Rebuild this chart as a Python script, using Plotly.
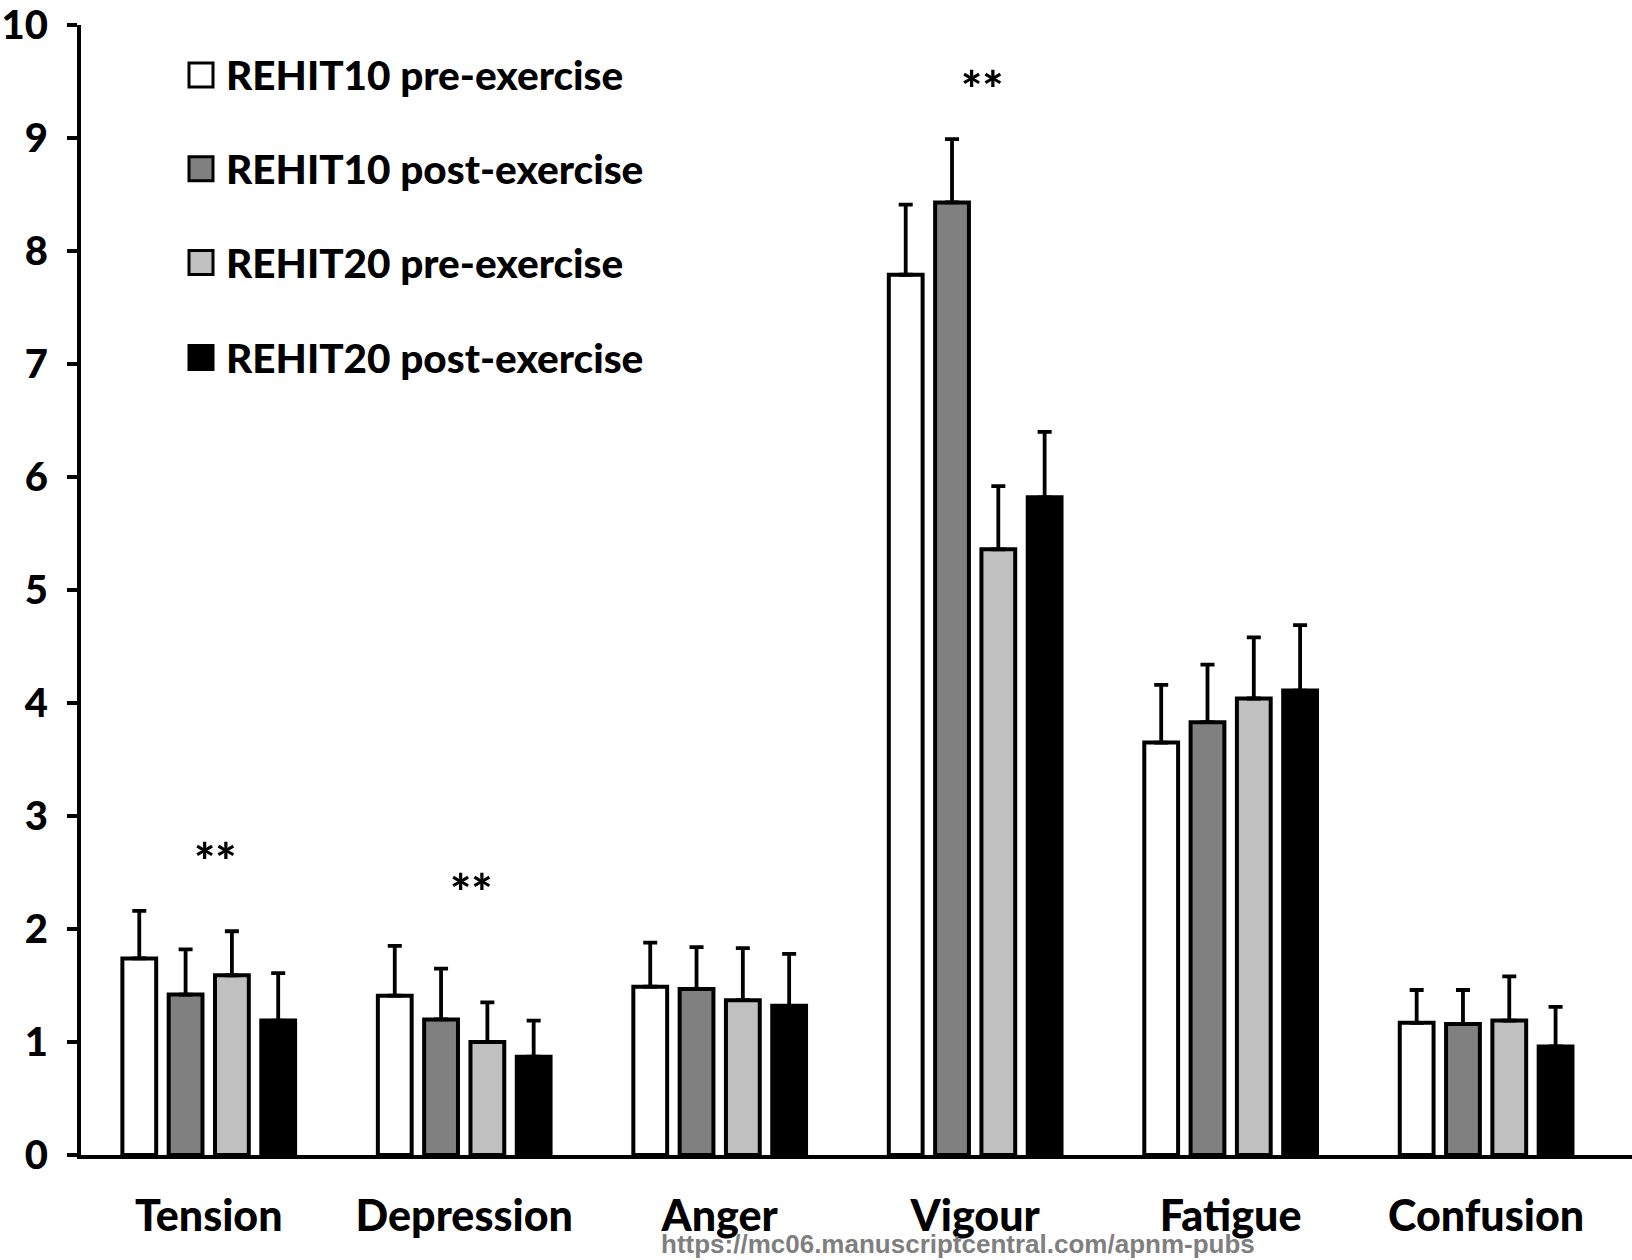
import plotly.graph_objects as go

# POMS subscale scores, mean with upward SD whisker
categories = ["Tension", "Depression", "Anger", "Vigour", "Fatigue", "Confusion"]

series_names = [
    "REHIT10 pre-exercise",
    "REHIT10 post-exercise",
    "REHIT20 pre-exercise",
    "REHIT20 post-exercise",
]
series_colors = ["#ffffff", "#808080", "#c0c0c0", "#000000"]

rehit10_pre = [1.74, 1.41, 1.49, 7.79, 3.65, 1.17]
rehit10_pre_sd = [0.42, 0.44, 0.39, 0.62, 0.51, 0.29]
rehit10_post = [1.42, 1.20, 1.47, 8.43, 3.83, 1.16]
rehit10_post_sd = [0.40, 0.45, 0.37, 0.56, 0.51, 0.30]
rehit20_pre = [1.59, 1.00, 1.37, 5.36, 4.04, 1.19]
rehit20_pre_sd = [0.39, 0.35, 0.46, 0.56, 0.54, 0.39]
rehit20_post = [1.19, 0.87, 1.32, 5.82, 4.11, 0.96]
rehit20_post_sd = [0.42, 0.32, 0.46, 0.58, 0.58, 0.35]

series_values = [rehit10_pre, rehit10_post, rehit20_pre, rehit20_post]
series_sd = [rehit10_pre_sd, rehit10_post_sd, rehit20_pre_sd, rehit20_post_sd]

# significance markers: (category, height of the asterisks)
sig_categories = ["Tension", "Depression", "Vigour"]
sig_heights = [2.68, 2.41, 9.51]

FONT = "Lato"
HEAVY = 900
W, H = 1632, 1260
L, R, T, B = 81, 0, 23, 105

fig = go.Figure()
for name, color, vals, sd in zip(series_names, series_colors, series_values, series_sd):
    fig.add_trace(go.Bar(
        name=name,
        x=categories,
        y=vals,
        marker=dict(color=color, line=dict(color="black", width=4)),
        error_y=dict(type="data", array=sd, arrayminus=[0] * len(sd),
                     symmetric=False, color="black", thickness=3.8, width=7),
        showlegend=False,
    ))

for cat, h in zip(sig_categories, sig_heights):
    fig.add_annotation(x=cat, y=h - 0.08, xref="x", yref="y", text="**",
                       showarrow=False, yanchor="middle", xshift=7,
                       font=dict(family=FONT, size=50, color="black", weight=HEAVY))


def px_x(px):
    return (px - L) / (W - L - R)


def px_y(py):
    return (H - B - py) / (H - T - B)


# legend drawn as swatches plus labels
row_centers = [73, 167, 261, 356]
for name, color, cy in zip(series_names, series_colors, row_centers):
    fig.add_shape(type="rect", xref="paper", yref="paper",
                  x0=px_x(189), x1=px_x(213), y0=px_y(cy + 12), y1=px_y(cy - 12),
                  fillcolor=color, line=dict(color="black", width=3))
    fig.add_annotation(x=px_x(224), y=px_y(cy), xref="paper", yref="paper",
                       text=name, showarrow=False,
                       xanchor="left", yanchor="middle",
                       font=dict(family=FONT, size=40.5, color="black", weight=HEAVY))

fig.add_annotation(x=px_x(958), y=px_y(1244), xref="paper", yref="paper",
                   text="<b>https://mc06.manuscriptcentral.com/apnm-pubs</b>",
                   showarrow=False, xanchor="center", yanchor="middle",
                   font=dict(family="Liberation Sans Narrow, Liberation Sans", size=26,
                             color="#7f7f7f"))

fig.update_layout(
    width=W, height=H,
    margin=dict(l=L, r=R, t=T, b=B, pad=0),
    paper_bgcolor="white", plot_bgcolor="white",
    barmode="group", bargap=0.275, bargroupgap=0.27,
    font=dict(family=FONT, color="black"),
    xaxis=dict(
        range=[-0.5, 5.571],
        showline=True, linecolor="black", linewidth=4,
        ticks="", showgrid=False, zeroline=False,
        tickfont=dict(family=FONT, size=43, color="black", weight=HEAVY),
        ticklabelstandoff=20,
    ),
    yaxis=dict(
        range=[0, 10], dtick=1, tick0=0,
        showline=True, linecolor="black", linewidth=4,
        ticks="outside", ticklen=10, tickwidth=3.5, tickcolor="black",
        showgrid=False, zeroline=False,
        tickfont=dict(family=FONT, size=40, color="black", weight=HEAVY),
        ticklabelstandoff=11,
        ticklabeloverflow="allow",
    ),
)

fig.write_html("out.html")
